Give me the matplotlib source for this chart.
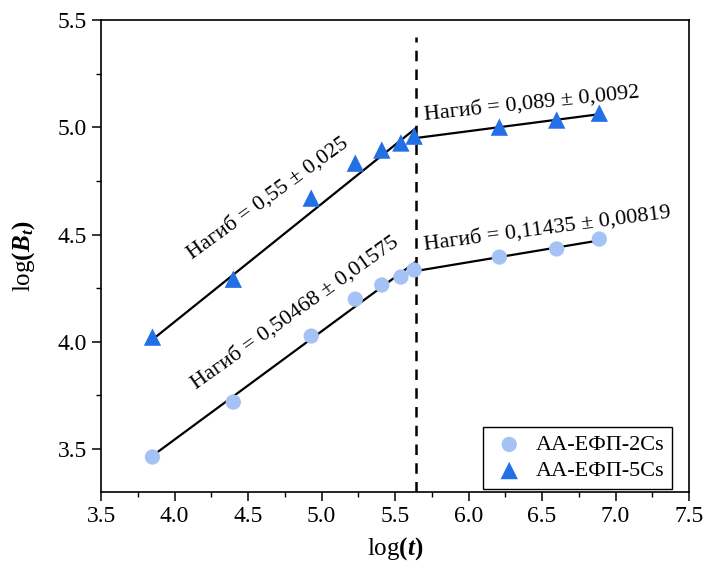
import numpy as np
import matplotlib
matplotlib.use("Agg")
import matplotlib.pyplot as plt
from matplotlib.ticker import MultipleLocator

plt.rcParams['font.family'] = ['Liberation Serif', 'DejaVu Serif']
plt.rcParams['mathtext.fontset'] = 'custom'
plt.rcParams['mathtext.rm'] = 'Liberation Serif'
plt.rcParams['mathtext.it'] = 'Liberation Serif:italic'
plt.rcParams['mathtext.bf'] = 'Liberation Serif:bold'
plt.rcParams['mathtext.bfit'] = 'Liberation Serif:italic:bold'

# data
log_t = [3.85, 4.40, 4.93, 5.23, 5.41, 5.54, 5.63, 6.21, 6.60, 6.89]
log_b_2cs = [3.463, 3.719, 4.027, 4.199, 4.265, 4.302, 4.335, 4.395, 4.433, 4.479]
log_b_5cs = [4.022, 4.292, 4.670, 4.833, 4.894, 4.927, 4.959, 5.001, 5.034, 5.066]

# fitted segments: (x start, x end, slope, intercept)
fit_2cs = [(3.85, 5.64, 0.50468, 1.5255), (5.64, 6.89, 0.11435, 3.685)]
fit_5cs = [(3.85, 5.64, 0.55, 1.893), (5.64, 6.89, 0.089, 4.448)]
x_break = 5.644
break_top = 5.42

labels = [
    ("Нагиб = 0,55 ± 0,025", 4.637, 4.670, 36),
    ("Нагиб = 0,50468 ± 0,01575", 4.82, 4.134, 35.5),
    ("Нагиб = 0,089 ± 0,0092", 6.434, 5.108, 6),
    ("Нагиб = 0,11435 ± 0,00819", 6.536, 4.528, 7.5),
]

fig = plt.figure(figsize=(7.05, 5.72), dpi=100)
ax = fig.add_axes([0.1433, 0.1399, 0.834, 0.825])

# fit lines
for seg in fit_2cs + fit_5cs:
    xs = np.array([seg[0], seg[1]])
    ax.plot(xs, seg[3] + seg[2] * xs, color='black', lw=1.6, zorder=2)

ax.plot([x_break, x_break], [3.3, break_top], color='black', lw=1.8,
        linestyle=(0, (4.2, 3.3)), zorder=2)

ax.scatter(log_t, log_b_2cs, s=11**2, marker='o', color='#A4C2F4',
           edgecolors='none', label='AA-ЕФП-2Cs', zorder=3)
ax.scatter(log_t, log_b_5cs, s=12.5**2, marker='^', color='#2370E6',
           edgecolors='none', label='AA-ЕФП-5Cs', zorder=3)

for txt, x, y, rot in labels:
    ax.text(x, y, txt, fontsize=16, rotation=rot, ha='center', va='center',
            rotation_mode='anchor', zorder=4)

ax.set_xlim(3.5, 7.5)
ax.set_ylim(3.3, 5.5)
ax.xaxis.set_major_locator(MultipleLocator(0.5))
ax.xaxis.set_minor_locator(MultipleLocator(0.25))
ax.yaxis.set_major_locator(MultipleLocator(0.5))
ax.yaxis.set_minor_locator(MultipleLocator(0.25))
ax.tick_params(which='major', direction='out', length=6.5, width=1.1, labelsize=17)
ax.tick_params(which='minor', direction='out', length=3.5, width=1.0)
for sp in ax.spines.values():
    sp.set_linewidth(1.2)

ax.set_xlabel(r'log$\mathbf{(}\boldsymbol{t}\mathbf{)}$', fontsize=18, labelpad=6)
ax.set_ylabel(r'log$\mathbf{(}\boldsymbol{B}_{\boldsymbol{t}}\mathbf{)}$', fontsize=18, labelpad=15)

leg = ax.legend(loc='lower right', bbox_to_anchor=(0.9716, 0.006), borderaxespad=0,
                fontsize=16, frameon=True, fancybox=False, framealpha=1,
                edgecolor='black', handlelength=1.7, handletextpad=0.35,
                borderpad=0.35, labelspacing=0.25, scatterpoints=1)
leg.get_frame().set_linewidth(1.0)

fig.savefig('out.png', dpi=100)
